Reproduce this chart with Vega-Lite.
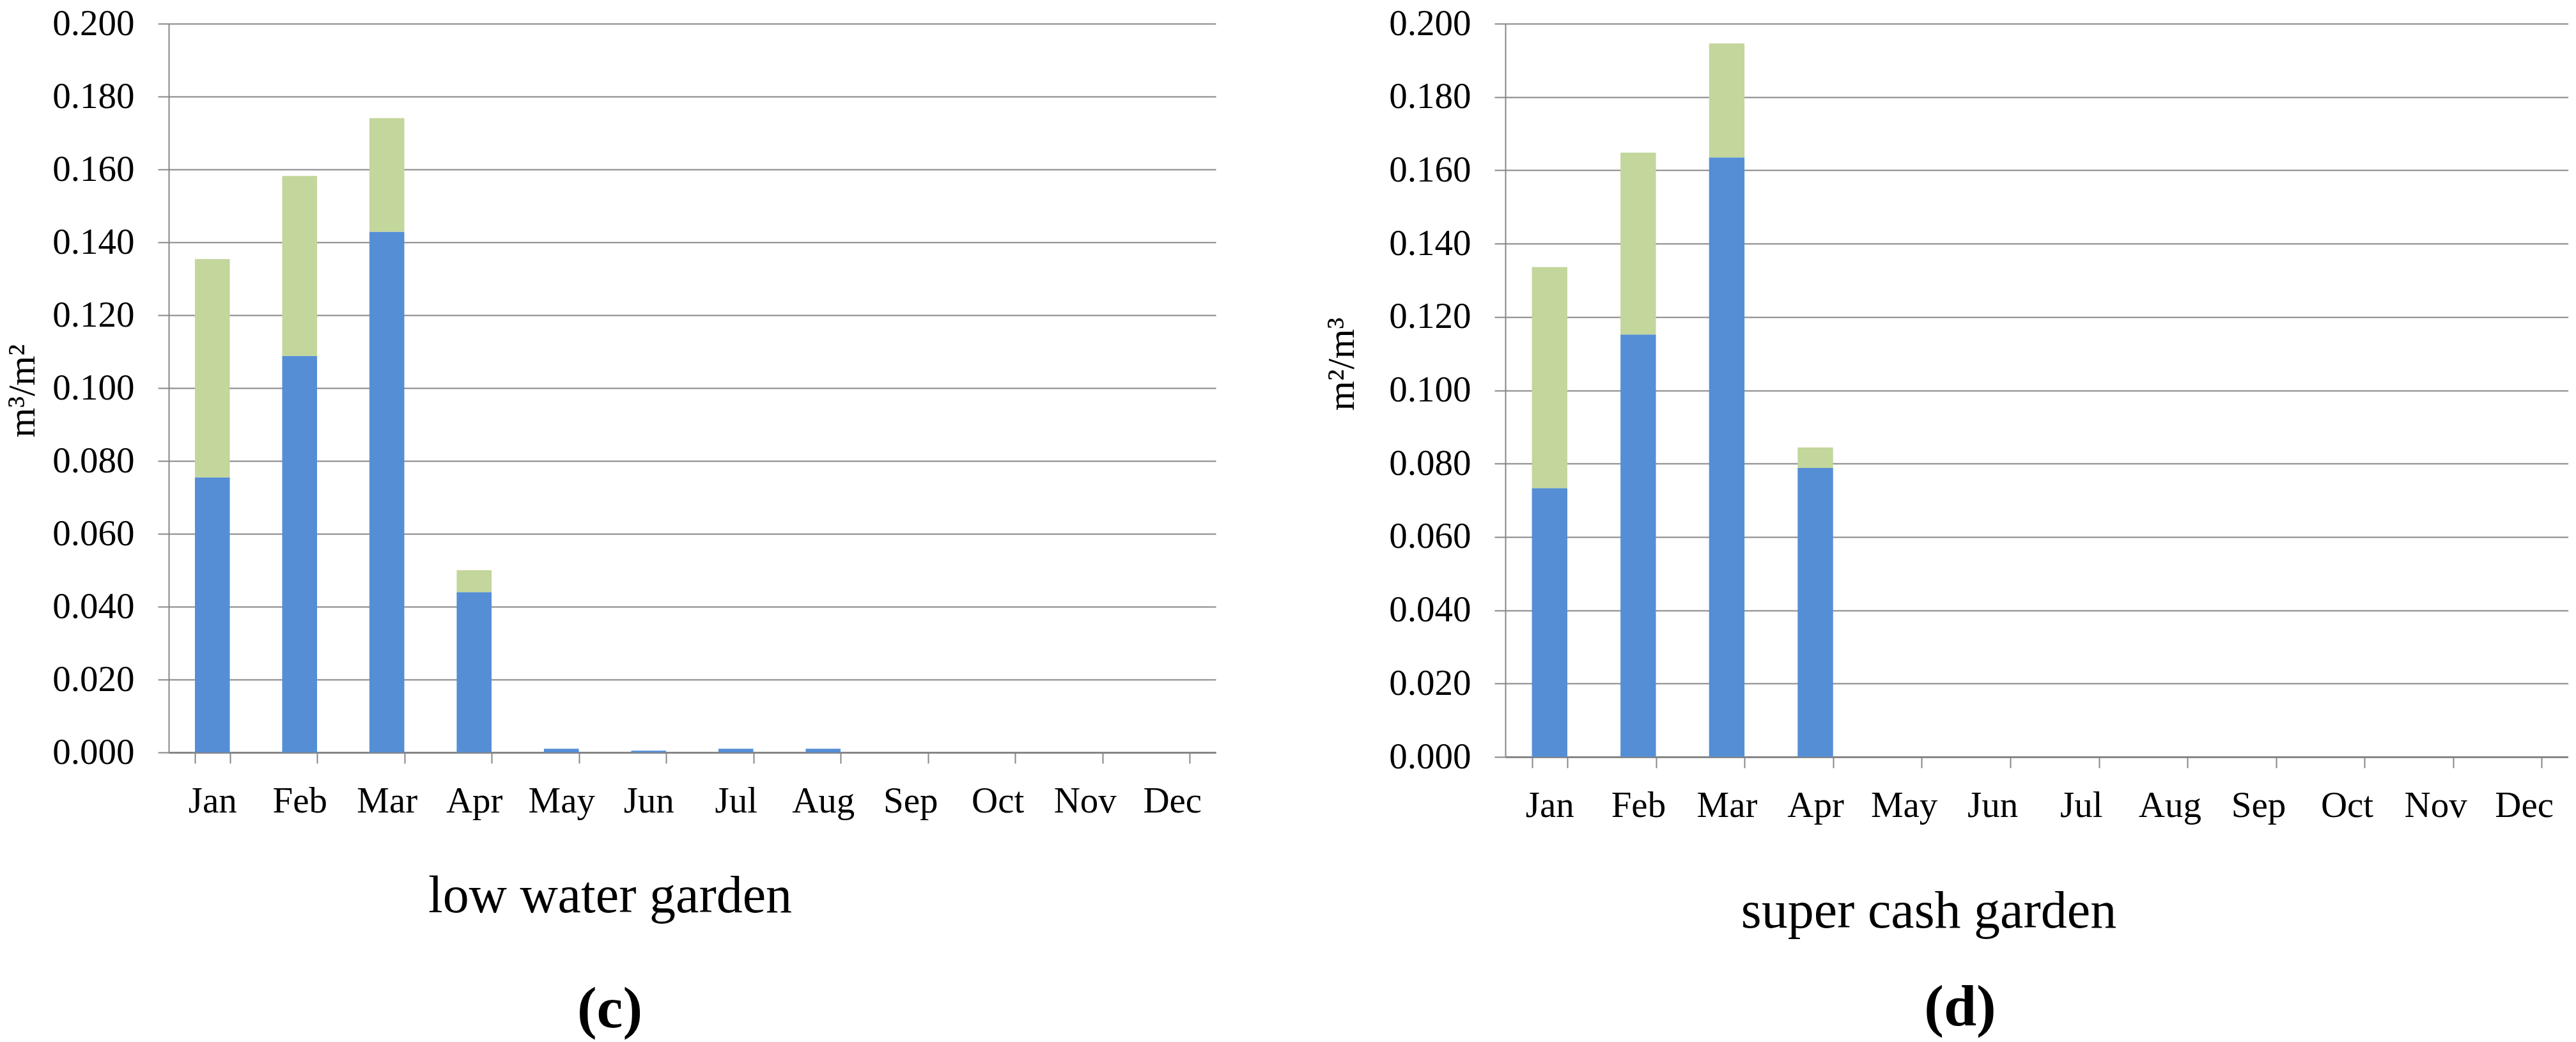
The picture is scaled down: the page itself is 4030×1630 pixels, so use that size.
{
  "$schema": "https://vega.github.io/schema/vega-lite/v6.json",
  "background": "white",
  "padding": {"left": 5, "top": 8, "right": 0, "bottom": 30},
  "spacing": 453,
  "bounds": "flush",
  "config": {
    "view": {"stroke": null},
    "font": "Liberation Serif",
    "axis": {
      "labelFont": "Liberation Serif",
      "titleFont": "Liberation Serif",
      "labelColor": "#000000",
      "titleColor": "#000000",
      "labelFontSize": 57,
      "titleFontWeight": "normal",
      "domainColor": "#868686",
      "tickColor": "#868686",
      "gridColor": "#868686",
      "tickSize": 17,
      "tickWidth": 2,
      "gridWidth": 2,
      "domainWidth": 2
    },
    "title": {"font": "Liberation Serif", "color": "#000000"}
  },
  "datasets": {
    "low": [
      {"month": "Jan", "part": "lower", "value": 0.0755},
      {"month": "Jan", "part": "upper", "value": 0.0599},
      {"month": "Feb", "part": "lower", "value": 0.1088},
      {"month": "Feb", "part": "upper", "value": 0.0494},
      {"month": "Mar", "part": "lower", "value": 0.1429},
      {"month": "Mar", "part": "upper", "value": 0.0312},
      {"month": "Apr", "part": "lower", "value": 0.0440},
      {"month": "Apr", "part": "upper", "value": 0.0060},
      {"month": "May", "part": "lower", "value": 0.0010},
      {"month": "Jun", "part": "lower", "value": 0.0005},
      {"month": "Jul", "part": "lower", "value": 0.0010},
      {"month": "Aug", "part": "lower", "value": 0.0010},
      {"month": "Sep", "part": "lower", "value": 0},
      {"month": "Oct", "part": "lower", "value": 0},
      {"month": "Nov", "part": "lower", "value": 0},
      {"month": "Dec", "part": "lower", "value": 0}
    ],
    "cash": [
      {"month": "Jan", "part": "lower", "value": 0.0733},
      {"month": "Jan", "part": "upper", "value": 0.0603},
      {"month": "Feb", "part": "lower", "value": 0.1152},
      {"month": "Feb", "part": "upper", "value": 0.0496},
      {"month": "Mar", "part": "lower", "value": 0.1635},
      {"month": "Mar", "part": "upper", "value": 0.0311},
      {"month": "Apr", "part": "lower", "value": 0.0788},
      {"month": "Apr", "part": "upper", "value": 0.0056},
      {"month": "May", "part": "lower", "value": 0},
      {"month": "Jun", "part": "lower", "value": 0},
      {"month": "Jul", "part": "lower", "value": 0},
      {"month": "Aug", "part": "lower", "value": 0},
      {"month": "Sep", "part": "lower", "value": 0},
      {"month": "Oct", "part": "lower", "value": 0},
      {"month": "Nov", "part": "lower", "value": 0},
      {"month": "Dec", "part": "lower", "value": 0}
    ]
  },
  "hconcat": [
    {
      "data": {"name": "low"},
      "width": 1638,
      "height": 1140,
      "title": {
        "text": "(c)",
        "orient": "bottom",
        "frame": "group",
        "anchor": "middle",
        "fontSize": 92,
        "fontWeight": "bold",
        "baseline": "alphabetic",
        "offset": 165,
        "dx": -129
      },
      "mark": {"type": "bar"},
      "encoding": {
        "x": {
          "field": "month",
          "type": "ordinal",
          "scale": {
            "domain": ["Jan", "Feb", "Mar", "Apr", "May", "Jun", "Jul", "Aug", "Sep", "Oct", "Nov", "Dec"],
            "paddingInner": 0.6,
            "paddingOuter": 0.3
          },
          "axis": {
            "title": "low water garden",
            "labelAngle": 0,
            "tickBand": "extent",
            "labelBaseline": "alphabetic",
            "labelPadding": 76,
            "domainWidth": 3,
            "grid": false,
            "titleFontSize": 82,
            "titleBaseline": "alphabetic",
            "titleAlign": "center",
            "titleX": 690,
            "titleY": 249
          }
        },
        "y": {
          "field": "value",
          "type": "quantitative",
          "stack": "zero",
          "scale": {"domain": [0, 0.2], "nice": false},
          "axis": {
            "title": "m³/m²",
            "values": [0, 0.02, 0.04, 0.06, 0.08, 0.1, 0.12, 0.14, 0.16, 0.18, 0.2],
            "format": ".3f",
            "labelPadding": 37,
            "grid": true,
            "titleFontSize": 60,
            "titleAngle": -90,
            "titleBaseline": "alphabetic",
            "titleAlign": "center",
            "titleX": -211,
            "titleY": 574
          }
        },
        "color": {
          "field": "part",
          "type": "nominal",
          "scale": {"domain": ["lower", "upper"], "range": ["#558ED5", "#C3D69B"]},
          "legend": null
        },
        "order": {"field": "part", "sort": "ascending"}
      }
    },
    {
      "data": {"name": "cash"},
      "width": 1663,
      "height": 1147,
      "title": {
        "text": "(d)",
        "orient": "bottom",
        "frame": "group",
        "anchor": "middle",
        "fontSize": 92,
        "fontWeight": "bold",
        "baseline": "alphabetic",
        "offset": 138,
        "dx": -120
      },
      "mark": {"type": "bar"},
      "encoding": {
        "x": {
          "field": "month",
          "type": "ordinal",
          "scale": {
            "domain": ["Jan", "Feb", "Mar", "Apr", "May", "Jun", "Jul", "Aug", "Sep", "Oct", "Nov", "Dec"],
            "paddingInner": 0.6,
            "paddingOuter": 0.3
          },
          "axis": {
            "title": "super cash garden",
            "labelAngle": 0,
            "tickBand": "extent",
            "labelBaseline": "alphabetic",
            "labelPadding": 76,
            "domainWidth": 3,
            "grid": false,
            "titleFontSize": 82,
            "titleBaseline": "alphabetic",
            "titleAlign": "center",
            "titleX": 662,
            "titleY": 266
          }
        },
        "y": {
          "field": "value",
          "type": "quantitative",
          "stack": "zero",
          "scale": {"domain": [0, 0.2], "nice": false},
          "axis": {
            "title": "m²/m³",
            "values": [0, 0.02, 0.04, 0.06, 0.08, 0.1, 0.12, 0.14, 0.16, 0.18, 0.2],
            "format": ".3f",
            "labelPadding": 37,
            "grid": true,
            "titleFontSize": 60,
            "titleAngle": -90,
            "titleBaseline": "alphabetic",
            "titleAlign": "center",
            "titleX": -238,
            "titleY": 532
          }
        },
        "color": {
          "field": "part",
          "type": "nominal",
          "scale": {"domain": ["lower", "upper"], "range": ["#558ED5", "#C3D69B"]},
          "legend": null
        },
        "order": {"field": "part", "sort": "ascending"}
      }
    }
  ]
}
